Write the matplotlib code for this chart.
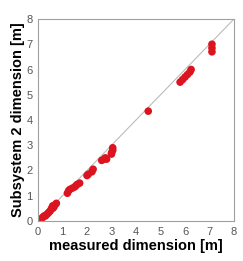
import matplotlib
matplotlib.use("Agg")
import matplotlib.pyplot as plt

plt.rcParams['font.family'] = ['Liberation Sans', 'DejaVu Sans']

measured = [0.05, 0.1, 0.15, 0.2, 0.25, 0.3, 0.35, 0.4, 0.45, 0.5, 0.55, 0.6, 0.6, 0.65, 0.7, 0.75,
            1.2, 1.25, 1.3, 1.4, 1.5, 1.55, 1.6, 1.7,
            2.0, 2.05, 2.2, 2.25,
            2.6, 2.7, 2.75, 2.8,
            3.0, 3.0, 3.05, 3.05,
            4.5,
            5.8, 5.9, 6.0, 6.1, 6.2, 6.25,
            7.1, 7.1, 7.1]
subsystem2 = [0.0, 0.05, 0.1, 0.15, 0.2, 0.2, 0.25, 0.3, 0.35, 0.4, 0.5, 0.6, 0.5, 0.55, 0.65, 0.7,
              1.1, 1.2, 1.25, 1.3, 1.35, 1.4, 1.45, 1.5,
              1.8, 1.85, 1.95, 2.05,
              2.4, 2.45, 2.5, 2.45,
              2.7, 2.65, 2.8, 2.9,
              4.35,
              5.5, 5.6, 5.7, 5.8, 5.9, 6.0,
              7.0, 6.85, 6.7]
ticks = [0, 1, 2, 3, 4, 5, 6, 7, 8]

fig = plt.figure(figsize=(2.43, 2.61), dpi=100)
ax = fig.add_axes([38/243, 40/261, 196/243, 202/261])
ax.plot([0, 8], [0, 8], color='#bbbbbb', lw=0.8, zorder=1)
ax.scatter(measured, subsystem2, s=30, color='#dc1420', edgecolors='none', zorder=2)
ax.set_xlim(0, 8)
ax.set_ylim(0, 8)
ax.set_xticks(ticks)
ax.set_yticks(ticks)
ax.tick_params(length=0, labelsize=8, colors='#555555', pad=4)
for s in ax.spines.values():
    s.set_color('#a0a0a0')
    s.set_linewidth(0.8)
ax.set_xlabel('measured dimension [m]', fontsize=10.5, fontweight='bold', labelpad=2)
ax.set_ylabel('Subsystem 2 dimension [m]', fontsize=10.5, fontweight='bold', labelpad=1)
fig.savefig('out.png', dpi=100)
